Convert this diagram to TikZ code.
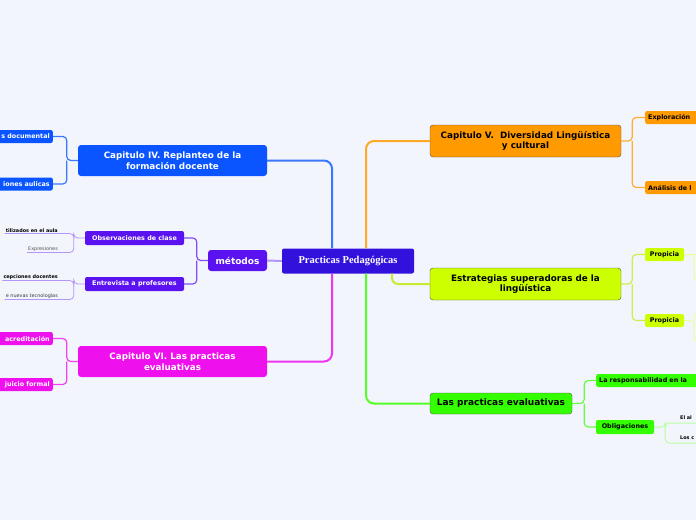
\documentclass[tikz,border=0pt]{standalone}
\usepackage{fontspec}
\setmainfont{DejaVu Sans}
\newfontfamily\titelschrift{Liberation Serif}
\usetikzlibrary{positioning}
\definecolor{hinter}{HTML}{F3F5FD}
\definecolor{zentrum}{HTML}{3311DD}
\definecolor{blau}{HTML}{0A55FF}
\definecolor{lila}{HTML}{5A12F0}
\definecolor{magenta}{HTML}{EE11EE}
\definecolor{orange}{HTML}{FF9A00}
\definecolor{gelb}{HTML}{CCFF00}
\definecolor{gruen}{HTML}{33FF00}
\definecolor{rand}{HTML}{555555}
\tikzset{haupt/.style={rounded corners=2pt,fill=zentrum,text=white,font=\titelschrift\bfseries\fontsize{10.5}{12}\selectfont,minimum width=132pt,minimum height=25pt},
  kapitel/.style={rounded corners=3pt,align=center,font=\bfseries\fontsize{8.8}{10.5}\selectfont,minimum width=189pt,minimum height=31pt,inner sep=2pt},
  blatt/.style={rounded corners=2pt,font=\bfseries\fontsize{6.4}{7}\selectfont,minimum height=13pt,inner ysep=1pt,inner xsep=3pt},
  notiz/.style={font=\fontsize{4.9}{5.5}\selectfont,inner sep=1pt},
  linie/.style={line width=2pt,rounded corners=8pt},
  zweig/.style={line width=1.2pt,rounded corners=4pt}}

\begin{document}
\begin{tikzpicture}[x=1pt,y=-1pt]
    \useasboundingbox (0,0) rectangle (696,520);
    \fill[hinter] (0,0) rectangle (696,520);
    \clip (0,0) rectangle (696,520);

    % mitte und linke seite
    \path node [haupt] (ppc) at (348,261) {Practicas Pedagógicas}
          node [kapitel, fill=blau, text=white] (cap4) at (172.5,160.5) {Capitulo IV. Replanteo de la\\formación docente}
          node [blatt, fill=blau, text=white, text width=66pt, align=right, anchor=east] (doc) at (53,136.5) {s documental}
          node [blatt, fill=blau, text=white, text width=66pt, align=right, anchor=east] (aul) at (53,184) {iones aulicas}
          node [kapitel, fill=lila, text=white, minimum width=59pt, minimum height=21pt, font=\bfseries\fontsize{9}{10}\selectfont] (met) at (237.5,260.5) {métodos}
          node [blatt, fill=lila, text=white, minimum width=99pt, minimum height=14pt] (obs) at (134.5,238) {Observaciones de clase}
          node [blatt, fill=lila, text=white, minimum width=99pt, minimum height=14pt] (ent) at (134.5,284) {Entrevista a profesores}
          node [notiz, font=\bfseries\fontsize{4.9}{5.5}\selectfont, anchor=south east] (n1) at (59,233.5) {tilizados en el aula}
          node [notiz, text=rand, anchor=south east] (n2) at (59,252.5) {Expresiones}
          node [notiz, font=\bfseries\fontsize{4.9}{5.5}\selectfont, anchor=south east] (n3) at (59,280.5) {cepciones docentes}
          node [notiz, text=rand!70!black, anchor=south east] (n4) at (59,299.5) {e nuevas tecnologías}
          node [kapitel, fill=magenta, text=white] (cap6) at (172.5,361.5) {Capitulo VI. Las practicas\\evaluativas}
          node [blatt, fill=magenta, text=white, text width=66pt, align=right, anchor=east] (acr) at (53,338.5) {acreditación}
          node [blatt, fill=magenta, text=white, text width=66pt, align=right, anchor=east] (jui) at (53,384.5) {juicio formal};

    % rechte seite
    \path node [kapitel, fill=orange, draw=rand, minimum width=191pt, minimum height=32pt] (cap5) at (525.5,141) {Capitulo V.\ \ Diversidad Lingüística\\y cultural}
          node [blatt, fill=orange, text width=60pt, align=left, anchor=west] (expl) at (645,117.5) {Exploración}
          node [blatt, fill=orange, text width=60pt, align=left, anchor=west] (anal) at (645,187.5) {Análisis de l}
          node [kapitel, fill=gelb, draw=rand, minimum width=191pt, minimum height=32pt] (estr) at (525.5,284) {Estrategias superadoras de la\\lingüística}
          node [blatt, fill=gelb, minimum width=39pt] (prop1) at (664.5,254.5) {Propicia}
          node [blatt, fill=gelb, minimum width=39pt] (prop2) at (664.5,320.5) {Propicia}
          node [kapitel, fill=gruen, draw=rand, minimum width=142pt, minimum height=21pt, font=\bfseries\fontsize{9}{10}\selectfont] (lpe) at (501,403.5) {Las practicas evaluativas}
          node [blatt, fill=gruen, text width=110pt, align=left, anchor=west] (resp) at (596,380.5) {La responsabilidad en la}
          node [blatt, fill=gruen, minimum width=58pt, minimum height=14pt] (obl) at (625,427) {Obligaciones}
          node [notiz, font=\bfseries\fontsize{4.9}{5.5}\selectfont, anchor=south west] (n5) at (679,421) {El al}
          node [notiz, font=\bfseries\fontsize{4.9}{5.5}\selectfont, anchor=south west] (n6) at (679,441) {Los c};
    \coordinate (rand1) at (705,281);
    \coordinate (rand2) at (705,342);
    \coordinate (rand3) at (705,423);
    \coordinate (rand4) at (705,443);

    % hauptaeste
    \draw[linie, blau!80] (ppc.north) ++(-16,0) |- (cap4.east);
    \draw[linie, magenta!85] (ppc.south) ++(-16,0) |- (cap6.east);
    \draw[linie, lila!45] (ppc.west) -- (met.east);
    \draw[linie, orange!85] (ppc.north) ++(18,0) |- (cap5.west);
    \draw[linie, gruen!85] (ppc.south) ++(18,0) |- (lpe.west);
    \draw[linie, gelb!90!black!80, rounded corners=6pt] (ppc.south) ++(44,0) |- (estr.west);

    % zweige links
    \draw[zweig, blau!80] (cap4.west) -- ++(-11,0) |- (doc.east);
    \draw[zweig, blau!80] (cap4.west) ++(-11,0) |- (aul.east);
    \draw[zweig, lila!75] (met.west) -- ++(-11,0) |- (obs.east);
    \draw[zweig, lila!75] (met.west) ++(-11,0) |- (ent.east);
    \draw[zweig, lila!45, line width=0.8pt] (obs.west) -- ++(-11,0) |- (n1.south west);
    \draw[zweig, lila!45, line width=0.8pt] (obs.west) ++(-11,0) |- (n2.south west);
    \draw[zweig, lila!45, line width=0.8pt] (ent.west) -- ++(-11,0) |- (n3.south west);
    \draw[zweig, lila!45, line width=0.8pt] (ent.west) ++(-11,0) |- (n4.south west);
    \draw[zweig, magenta!80] (cap6.west) -- ++(-11,0) |- (acr.east);
    \draw[zweig, magenta!80] (cap6.west) ++(-11,0) |- (jui.east);

    % zweige rechts
    \draw[zweig, orange!80] (cap5.east) -- ++(11,0) |- (expl.west);
    \draw[zweig, orange!80] (cap5.east) ++(11,0) |- (anal.west);
    \draw[zweig, gelb!90!black!70] (estr.east) -- ++(11,0) |- (prop1.west);
    \draw[zweig, gelb!90!black!70] (estr.east) ++(11,0) |- (prop2.west);
    \draw[zweig, gelb!40, line width=1pt] (prop1.east) -- ++(10,0) |- (rand1);
    \draw[zweig, gelb!40, line width=1pt] (prop1.east) -- (705,254.5);
    \draw[zweig, gelb!40, line width=1pt] (prop2.east) -- ++(10,0) |- (rand2);
    \draw[zweig, gelb!40, line width=1pt] (prop2.east) ++(10,0) |- (705,313);
    \draw[zweig, gruen!75] (lpe.east) -- ++(12,0) |- (resp.west);
    \draw[zweig, gruen!75] (lpe.east) ++(12,0) |- (obl.west);
    \draw[zweig, gruen!35, line width=1pt] (obl.east) -- ++(11,0) |- (rand3);
    \draw[zweig, gruen!35, line width=1pt] (obl.east) ++(11,0) |- (rand4);
\end{tikzpicture}
\end{document}
